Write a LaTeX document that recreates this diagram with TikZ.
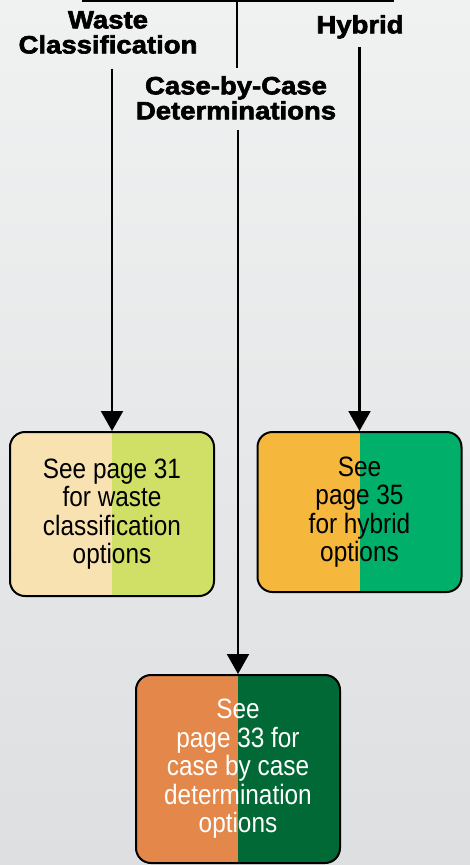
\documentclass[tikz,border=0pt]{standalone}
\usepackage{fontspec}
\setmainfont{Liberation Sans}
\newfontfamily\headfont[FakeStretch=1.1,FakeBold=2.5]{Liberation Sans}
\newfontfamily\boxfont[FakeStretch=0.87]{Liberation Sans}
\usetikzlibrary{arrows.meta}

\definecolor{bgtop}{HTML}{F0F1F1}
\definecolor{bgbot}{HTML}{DEDFE1}
\definecolor{wasteL}{HTML}{F9E2B2}
\definecolor{wasteR}{HTML}{D0DF66}
\definecolor{hybridL}{HTML}{F5B83C}
\definecolor{hybridR}{HTML}{00B06A}
\definecolor{caseL}{HTML}{E3874A}
\definecolor{caseR}{HTML}{006935}

\begin{document}
\begin{tikzpicture}[x=1pt,y=-1pt,
  head/.style={font=\headfont\bfseries\fontsize{25}{25}\selectfont,
    align=center, inner sep=0pt, anchor=north},
  optbox/.style 2 args={draw=black, line width=2pt, rounded corners=15pt,
    fill=#1, minimum width=204pt, align=center, inner sep=0pt,
    font=\boxfont\fontsize{28}{28.5}\selectfont,
    path picture={\fill[#2, sharp corners] (path picture bounding box.north)
      rectangle (path picture bounding box.south east);}},
  conn/.style={line width=2.1pt},
  arr/.style={conn, -{Triangle[width=22pt,length=20pt]}}]
  % background
  \shade[top color=bgtop, bottom color=bgbot] (0,0) rectangle (470,865);
  \useasboundingbox (0,0) rectangle (470,865);

  % headings
  \node[head] (wasteHead) at (108,11) {Waste\\Classification};
  \node[head] (hybridHead) at (360,15) {Hybrid};
  \node[head] (caseHead) at (236,76) {Case-by-Case\\Determinations};

  % option boxes
  \node[optbox={wasteL}{wasteR}, minimum height=164pt] (wasteBox) at (112,514)
    {See page 31\\for waste\\classification\\options};
  \node[optbox={hybridL}{hybridR}, minimum height=160pt] (hybridBox) at (359.5,512)
    {See\\page 35\\for hybrid\\options};
  \node[optbox={caseL}{caseR}, minimum height=188pt, text=white] (caseBox) at (238,769)
    {See\\page 33 for\\case by case\\determination\\options};

  % connectors
  \coordinate (busL) at (82,1);
  \coordinate (busR) at (394,1);
  \coordinate (busC) at (237,1);
  \draw[conn] (busL) -- (busR);
  \draw[conn] (busC) -- ([yshift=8pt]caseHead.north -| busC);
  \draw[arr] ([yshift=-10pt]caseHead.south -| caseBox.north) -- (caseBox.north);
  \draw[arr] ([yshift=-15pt]wasteHead.south -| wasteBox.north) -- (wasteBox.north);
  \draw[arr] ([yshift=-8pt]hybridHead.south -| hybridBox.north) -- (hybridBox.north);
\end{tikzpicture}
\end{document}
